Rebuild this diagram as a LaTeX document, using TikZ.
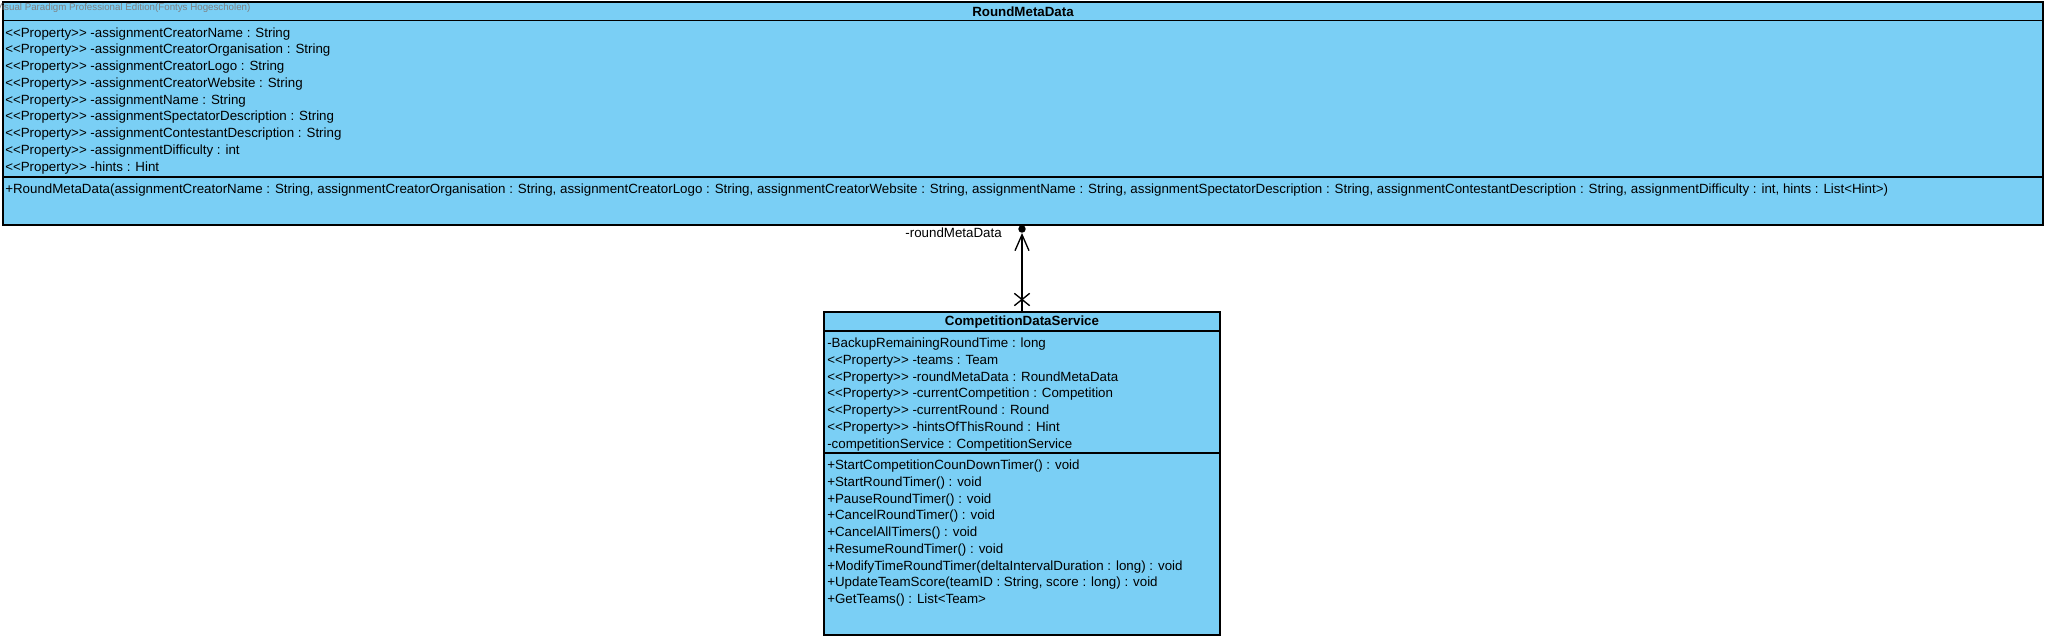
\documentclass[tikz,border=0pt]{standalone}
\usepackage{fontspec}
\newfontfamily\vpfont{Liberation Sans}
\usetikzlibrary{fit,shapes.misc,arrows.meta}
\definecolor{classblue}{RGB}{122,207,245}
\definecolor{markgray}{RGB}{128,128,128}
\tikzset{
  classbox/.style={draw=black, fill=classblue, line width=1pt, inner sep=0pt},
  sepline/.style={draw=black, line width=1pt},
  member/.style={anchor=base west, inner sep=0pt, font=\vpfont\fontsize{10pt}{12pt}\selectfont},
  classname/.style={anchor=base, inner sep=0pt, font=\vpfont\fontsize{10pt}{12pt}\selectfont\bfseries},
  watermark/.style={anchor=base west, inner sep=0pt, text=markgray, font=\vpfont\fontsize{7.3pt}{9pt}\selectfont},
  owndot/.style={circle, fill=black, minimum size=5.6pt, inner sep=0pt},
  navcross/.style={cross out, draw=black, line width=1pt, minimum width=10.5pt, minimum height=8.25pt, inner sep=0pt},
  assoc/.style={line width=1pt, -{Straight Barb[length=12pt,width=10.5pt]}},
}
\begin{document}
\begin{tikzpicture}[x=0.75pt,y=0.75pt,yscale=-1,xscale=1]
\useasboundingbox (0,0) rectangle (2048,640);

%Shape: Class [RoundMetaData]
\node [classbox, fit={(3,2) (2043,225)}] (rmd) {};
\draw [sepline] (3,20.5) -- (2043,20.5);
\draw [sepline] (3,177) -- (2043,177);
% Text Node
\node [watermark] (vpmark) at (-4.5,10.5) {Visual Paradigm Professional Edition(Fontys Hogescholen)};
% Text Node
\node [classname] (rmdname) at (1023,16) {RoundMetaData};
% Text Node: attributes
\foreach \txt [count=\i from 0] in {
  {<<Property>> -assignmentCreatorName : String},
  {<<Property>> -assignmentCreatorOrganisation : String},
  {<<Property>> -assignmentCreatorLogo : String},
  {<<Property>> -assignmentCreatorWebsite : String},
  {<<Property>> -assignmentName : String},
  {<<Property>> -assignmentSpectatorDescription : String},
  {<<Property>> -assignmentContestantDescription : String},
  {<<Property>> -assignmentDifficulty : int},
  {<<Property>> -hints : Hint}}
  \node [member] (rmdattr\i) at (5,37+\i*16.75) {\txt};
% Text Node: operation
\node [member] (rmdop0) at (5,193.5) {+RoundMetaData(assignmentCreatorName : String, assignmentCreatorOrganisation : String, assignmentCreatorLogo : String, assignmentCreatorWebsite : String, assignmentName : String, assignmentSpectatorDescription : String, assignmentContestantDescription : String, assignmentDifficulty : int, hints : List<Hint>)};

%Shape: Class [CompetitionDataService]
\node [classbox, fit={(824,312) (1220,635)}] (cds) {};
\draw [sepline] (824,331) -- (1220,331);
\draw [sepline] (824,453) -- (1220,453);
% Text Node
\node [classname] (cdsname) at (1022,325.5) {CompetitionDataService};
% Text Node: attributes
\foreach \txt [count=\i from 0] in {
  {-BackupRemainingRoundTime : long},
  {<<Property>> -teams : Team},
  {<<Property>> -roundMetaData : RoundMetaData},
  {<<Property>> -currentCompetition : Competition},
  {<<Property>> -currentRound : Round},
  {<<Property>> -hintsOfThisRound : Hint},
  {-competitionService : CompetitionService}}
  \node [member] (cdsattr\i) at (827,347.5+\i*16.75) {\txt};
% Text Node: operations
\foreach \txt [count=\i from 0] in {
  {+StartCompetitionCounDownTimer() : void},
  {+StartRoundTimer() : void},
  {+PauseRoundTimer() : void},
  {+CancelRoundTimer() : void},
  {+CancelAllTimers() : void},
  {+ResumeRoundTimer() : void},
  {+ModifyTimeRoundTimer(deltaIntervalDuration : long) : void},
  {+UpdateTeamScore(teamID : String, score : long) : void},
  {+GetTeams() : List<Team>}}
  \node [member] (cdsop\i) at (827,469.5+\i*16.75) {\txt};

%Association: CompetitionDataService -> RoundMetaData
\node [owndot] (own) at (1022,229) {};
\node [navcross] (nav) at (1022,299.5) {};
\draw [assoc] (cds.north) -- (own);
% Text Node
\node [member, anchor=base east] (rolelbl) at (1002,237) {-roundMetaData};
\end{tikzpicture}
\end{document}
